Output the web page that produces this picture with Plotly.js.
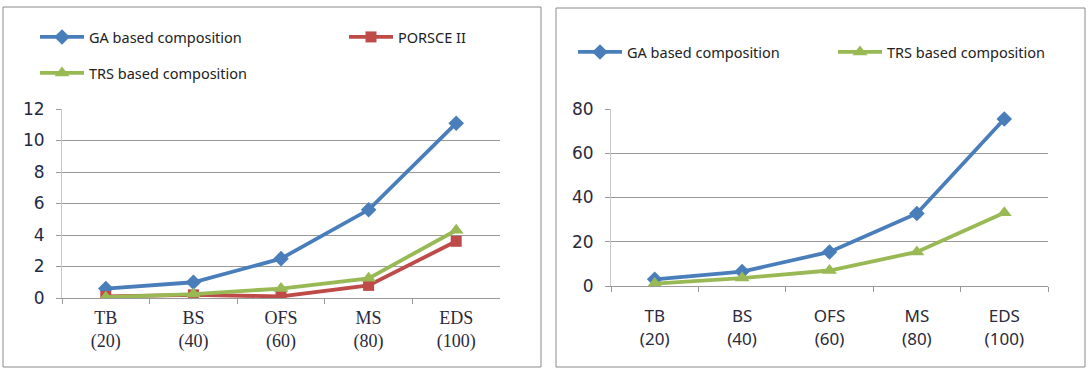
<!DOCTYPE html>
<html>
<head>
<meta charset="utf-8">
<script src="https://cdn.plot.ly/plotly-3.0.1.min.js"></script>
<style>html,body{margin:0;padding:0;background:#fff;}#chart{width:1088px;height:368px;}</style>
</head>
<body>
<div id="chart"></div>
<script>
// Left chart
const categoriesLeft = ["TB<br>(20)", "BS<br>(40)", "OFS<br>(60)", "MS<br>(80)", "EDS<br>(100)"];
const gaLeft = [0.6, 1.0, 2.5, 5.6, 11.1];
const porsceLeft = [0.1, 0.2, 0.1, 0.8, 3.6];
const trsLeft = [0.05, 0.25, 0.6, 1.25, 4.3];
const yTicksLeft = [0, 2, 4, 6, 8, 10, 12];
// Right chart
const categoriesRight = ["TB<br>(20)", "BS<br>(40)", "OFS<br>(60)", "MS<br>(80)", "EDS<br>(100)"];
const gaRight = [3, 6.5, 15.4, 32.8, 75.5];
const trsRight = [1.1, 3.6, 7, 15.4, 33.1];
const yTicksRight = [0, 20, 40, 60, 80];

const BLUE = "#4a7ebb", RED = "#be4b48", GREEN = "#98b954";
const W = 1088, H = 368;
const px = v => v / W, py = v => 1 - v / H;

const traces = [
  {x: categoriesLeft, y: gaLeft, name: "GA based composition", type: "scatter", mode: "lines+markers",
   line: {color: BLUE, width: 3.8}, marker: {symbol: "diamond", size: 12, color: BLUE},
   xaxis: "x", yaxis: "y", legend: "legend"},
  {x: categoriesLeft, y: porsceLeft, name: "PORSCE II", type: "scatter", mode: "lines+markers",
   line: {color: RED, width: 3.8}, marker: {symbol: "square", size: 11, color: RED},
   xaxis: "x", yaxis: "y", legend: "legend"},
  {x: categoriesLeft, y: trsLeft, name: "TRS based composition", type: "scatter", mode: "lines+markers",
   line: {color: GREEN, width: 3.8}, marker: {symbol: "triangle-up", size: 13, color: GREEN},
   xaxis: "x", yaxis: "y", legend: "legend3"},
  {x: categoriesRight, y: gaRight, name: "GA based composition", type: "scatter", mode: "lines+markers",
   line: {color: BLUE, width: 3.8}, marker: {symbol: "diamond", size: 12, color: BLUE},
   xaxis: "x2", yaxis: "y2", legend: "legend2"},
  {x: categoriesRight, y: trsRight, name: "TRS based composition", type: "scatter", mode: "lines+markers",
   line: {color: GREEN, width: 3.8}, marker: {symbol: "triangle-up", size: 13, color: GREEN},
   xaxis: "x2", yaxis: "y2", legend: "legend2"}
];

const legendFont = {family: "Noto Sans, Liberation Sans, sans-serif", size: 14.5, color: "#222"};
const xCommon = {
  type: "category", range: [-0.5, 4.5], tickson: "boundaries", ticks: "outside", ticklen: 5,
  tickcolor: "#999", showgrid: false, showline: true, linecolor: "#999", linewidth: 1,
  zeroline: false, fixedrange: true
};
const yCommon = {
  ticks: "outside", ticklen: 5, tickcolor: "#999", showgrid: true, gridcolor: "#999", gridwidth: 1,
  showline: true, linecolor: "#c8c8c8", zeroline: false, fixedrange: true
};

const layout = {
  width: W, height: H,
  margin: {l: 0, r: 0, t: 0, b: 0, autoexpand: false},
  paper_bgcolor: "#fff", plot_bgcolor: "#fff",
  showlegend: true,
  xaxis: Object.assign({}, xCommon, {domain: [px(62), px(500)], anchor: "y", ticklabelstandoff: 3,
    tickfont: {family: "Liberation Serif, Times New Roman, serif", size: 18, color: "#2a2a3a"}}),
  yaxis: Object.assign({}, yCommon, {domain: [py(298), py(109)], range: [0, 12], tickvals: yTicksLeft,
    anchor: "x", ticklabelstandoff: 8,
    tickfont: {family: "DejaVu Sans, sans-serif", size: 17, color: "#1e2a44"}}),
  xaxis2: Object.assign({}, xCommon, {domain: [px(611), px(1048)], anchor: "y2", ticklabelstandoff: 15,
    tickfont: {family: "Noto Sans, sans-serif", size: 17, color: "#2a2a3a"}}),
  yaxis2: Object.assign({}, yCommon, {domain: [py(286), py(109)], range: [0, 80], tickvals: yTicksRight,
    anchor: "x2", ticklabelstandoff: 8,
    tickfont: {family: "DejaVu Sans, sans-serif", size: 17, color: "#2a2a3a"}}),
  legend: {orientation: "h", x: px(35), xanchor: "left", y: py(37), yanchor: "middle",
    entrywidth: 250, entrywidthmode: "pixels", itemwidth: 44, font: legendFont, bgcolor: "rgba(0,0,0,0)"},
  legend3: {orientation: "h", x: px(35), xanchor: "left", y: py(73), yanchor: "middle",
    itemwidth: 44, font: legendFont, bgcolor: "rgba(0,0,0,0)"},
  legend2: {orientation: "h", x: px(573), xanchor: "left", y: py(52), yanchor: "middle",
    entrywidth: 201, entrywidthmode: "pixels", itemwidth: 44, font: legendFont, bgcolor: "rgba(0,0,0,0)"},
  shapes: [
    {type: "rect", xref: "paper", yref: "paper", x0: px(3), x1: px(541), y0: py(367), y1: py(7),
     line: {color: "#8a8a8a", width: 1}, layer: "below"},
    {type: "rect", xref: "paper", yref: "paper", x0: px(556), x1: px(1085), y0: py(367), y1: py(8),
     line: {color: "#8a8a8a", width: 1}, layer: "below"}
  ]
};

Plotly.newPlot("chart", traces, layout, {staticPlot: true, displayModeBar: false});
</script>
</body>
</html>
